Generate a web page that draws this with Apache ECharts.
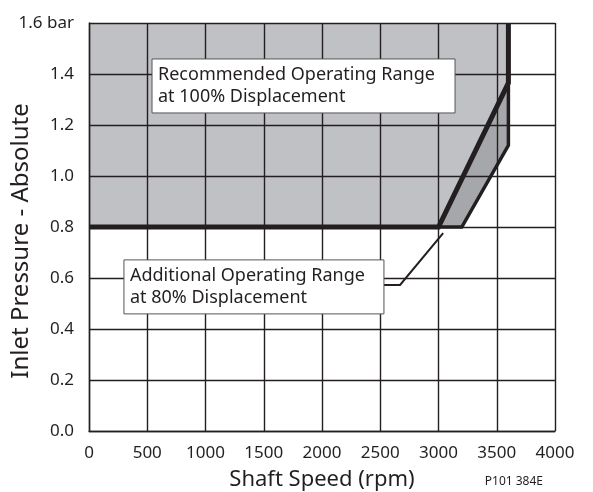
<!DOCTYPE html>
<html>
<head>
<meta charset="utf-8">
<script src="https://cdn.jsdelivr.net/npm/echarts@6/dist/echarts.min.js"></script>
<style>
  html, body { margin: 0; padding: 0; background: #fff; }
  #chart { width: 593px; height: 492px; }
</style>
</head>
<body>
<div id="chart"></div>
<script>
// Axis ticks
const xTicks = [0, 500, 1000, 1500, 2000, 2500, 3000, 3500, 4000];
const yTicks = [0.0, 0.2, 0.4, 0.6, 0.8, 1.0, 1.2, 1.4, 1.6];
const yTickLabels = ['0.0', '0.2', '0.4', '0.6', '0.8', '1.0', '1.2', '1.4', '1.6 bar'];

// Operating envelopes: [shaft speed rpm, inlet pressure bar abs]
const recommendedRegion = [[0, 0.8], [3000, 0.8], [3600, 1.365], [3600, 1.6], [0, 1.6]];
const additionalRegion = [[3000, 0.8], [3200, 0.8], [3600, 1.12], [3600, 1.365]];
const recommendedBoundary = [[0, 0.8], [3000, 0.8], [3600, 1.365], [3600, 1.6]];
const additionalBoundary = [[3000, 0.8], [3200, 0.8], [3600, 1.12], [3600, 1.365]];
const leaderLine = [[2532, 0.573], [2670, 0.573], [3040, 0.776]];

// Annotation texts with their top-left anchor in data units
const noteTexts = [
  'Recommended Operating Range\nat 100% Displacement',
  'Additional Operating Range\nat 80% Displacement'
];
const noteAnchors = [[541, 1.459], [300, 0.671]];
const noteWidths = [303, 260];

const FONT = 'Noto Sans';
const INK = '#231f20';

function polygonSeries(points, color, z) {
  return {
    type: 'custom',
    z: z,
    silent: true,
    data: [[points[0][0], points[0][1]]],
    renderItem: function (params, api) {
      return {
        type: 'polygon',
        shape: { points: points.map(p => api.coord(p)) },
        style: { fill: color, stroke: null }
      };
    }
  };
}

function lineSeries(points, width, z) {
  return {
    type: 'line',
    z: z,
    silent: true,
    symbol: 'none',
    data: points,
    lineStyle: { color: INK, width: width, join: 'miter', cap: 'butt' }
  };
}

const chart = echarts.init(document.getElementById('chart'), null, { renderer: 'canvas' });

chart.setOption({
  animation: false,
  backgroundColor: '#ffffff',
  grid: { left: 89, top: 23, right: 38, bottom: 61, containLabel: false, outerBoundsMode: 'none' },
  xAxis: {
    type: 'value',
    z: 3,
    min: xTicks[0],
    max: xTicks[xTicks.length - 1],
    interval: xTicks[1] - xTicks[0],
    name: 'Shaft Speed (rpm)',
    nameLocation: 'middle',
    nameGap: 38,
    nameMoveOverlap: false,
    nameTextStyle: { fontFamily: FONT, fontSize: 22, color: INK },
    axisLine: { show: true, lineStyle: { color: INK, width: 1.4 } },
    axisTick: { show: false },
    axisLabel: {
      fontFamily: FONT, fontSize: 17, color: INK, margin: 14,
      formatter: function (v) { return String(v); }
    },
    splitLine: { show: true, lineStyle: { color: INK, width: 1.4 } }
  },
  yAxis: {
    type: 'value',
    z: 3,
    min: yTicks[0],
    max: yTicks[yTicks.length - 1],
    interval: 0.2,
    name: 'Inlet Pressure - Absolute',
    nameLocation: 'middle',
    nameGap: 56,
    nameMoveOverlap: false,
    nameTextStyle: { fontFamily: FONT, fontSize: 24, color: INK, padding: [0, 28, 0, 0] },
    axisLine: { show: true, lineStyle: { color: INK, width: 1.4 } },
    axisTick: { show: false },
    axisLabel: {
      fontFamily: FONT, fontSize: 17, color: INK, margin: 15,
      formatter: function (v) {
        const i = yTicks.findIndex(t => Math.abs(t - v) < 1e-6);
        return i >= 0 ? yTickLabels[i] : '';
      }
    },
    splitLine: { show: true, lineStyle: { color: INK, width: 1.4 } }
  },
  graphic: [{
    type: 'text',
    right: 50,
    bottom: 4,
    style: { text: 'P101 384E', fontFamily: FONT, fontSize: 12, fill: INK }
  }],
  series: [
    polygonSeries(recommendedRegion, '#c0c1c5', 1),
    polygonSeries(additionalRegion, '#a6a7ab', 1),
    lineSeries(additionalBoundary, 3.5, 5),
    lineSeries(recommendedBoundary, 5, 6),
    lineSeries(leaderLine, 2, 6),
    {
      type: 'custom',
      z: 7,
      silent: true,
      data: noteAnchors.map((a, i) => [a[0], a[1], i]),
      renderItem: function (params, api) {
        const i = api.value(2);
        const p = api.coord([api.value(0), api.value(1)]);
        return {
          type: 'group',
          children: [{
            type: 'rect',
            shape: { x: p[0], y: p[1], width: noteWidths[i], height: 54 },
            style: { fill: '#ffffff', stroke: '#555555', lineWidth: 1 }
          }, {
            type: 'text',
            x: p[0] + 6,
            y: p[1] + 5,
            style: {
              text: noteTexts[i],
              fontFamily: FONT, fontSize: 18, lineHeight: 22, fill: INK
            }
          }]
        };
      }
    }
  ]
});
</script>
</body>
</html>
